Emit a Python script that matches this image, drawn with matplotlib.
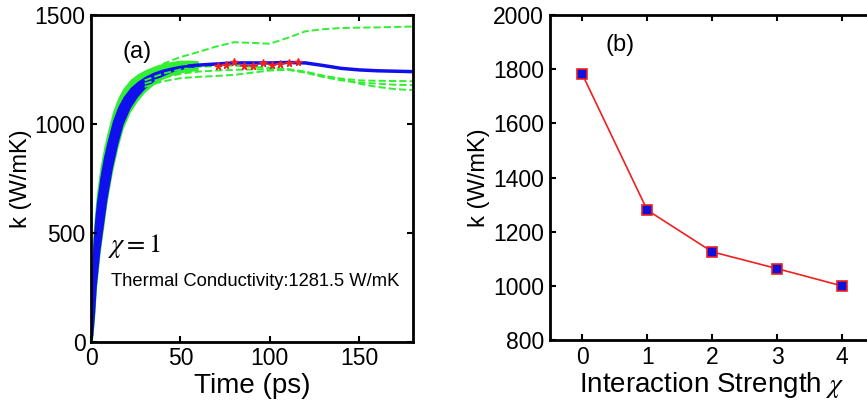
import numpy as np
import matplotlib.pyplot as plt

plt.rcParams['font.family'] = ['Liberation Sans', 'DejaVu Sans']
plt.rcParams['mathtext.fontset'] = 'stix'

# panel (a): early noisy band (time in ps, k in W/mK)
t_band = [0, 1, 2, 3, 5, 7, 9, 12, 15, 18, 22, 26, 30, 35, 40, 45, 50, 55, 60]
blue_lo = [0, 30, 130, 260, 420, 540, 660, 800, 910, 1000, 1075, 1125, 1162, 1196, 1220, 1238, 1250, 1258, 1264]
blue_hi = [230, 450, 560, 640, 760, 850, 920, 1015, 1080, 1125, 1168, 1196, 1218, 1238, 1252, 1262, 1270, 1274, 1276]
green_lo = [0, 20, 110, 240, 400, 520, 640, 780, 890, 980, 1055, 1105, 1145, 1180, 1205, 1222, 1234, 1240, 1246]
green_hi = [250, 480, 590, 680, 800, 890, 960, 1055, 1120, 1165, 1205, 1230, 1248, 1265, 1278, 1287, 1293, 1293, 1290]

# panel (a): running average after the noisy part
blue_t = [55, 60, 70, 80, 90, 100, 110, 120, 130, 140, 150, 160, 170, 180]
blue_k = [1266, 1270, 1275, 1280, 1280, 1280, 1282, 1280, 1268, 1255, 1248, 1244, 1242, 1240]

# panel (a): other runs (green dashed)
green_t = [30, 40, 50, 60, 70, 80, 90, 100, 110, 120, 130, 140, 150, 160, 170, 180]
green_1 = [1230, 1275, 1307, 1330, 1355, 1375, 1372, 1368, 1395, 1425, 1435, 1440, 1442, 1443, 1445, 1447]
green_2 = [1200, 1230, 1250, 1262, 1265, 1268, 1262, 1258, 1252, 1240, 1220, 1208, 1200, 1198, 1197, 1196]
green_3 = [1170, 1195, 1210, 1216, 1220, 1225, 1235, 1245, 1248, 1238, 1222, 1205, 1185, 1170, 1160, 1155]
green_4 = [1185, 1210, 1230, 1240, 1245, 1248, 1250, 1252, 1250, 1235, 1215, 1200, 1190, 1185, 1180, 1178]

# panel (a): averaging window points
red_t = [71, 75.5, 80, 85.5, 90.5, 96, 101, 106, 111, 116]
red_k = [1265, 1272, 1284, 1268, 1268, 1280, 1272, 1274, 1280, 1282]

# panel (b)
chi = [0, 1, 2, 3, 4]
k_chi = [1782, 1280, 1126, 1064, 1000]

fig = plt.figure(figsize=(8.67, 4.05), dpi=100)
ax1 = fig.add_axes([0.105, 0.156, 0.371, 0.807])
ax2 = fig.add_axes([0.634, 0.160, 0.375, 0.803])

green = '#33ee33'
blue = '#1010ee'
ax1.fill_between(t_band, green_lo, green_hi, color=green, lw=0)
for g in [green_1, green_2, green_3, green_4]:
    ax1.plot(green_t, g, '--', color=green, lw=1.4)
ax1.fill_between(t_band, blue_lo, blue_hi, color=blue, lw=0)
ax1.plot(blue_t, blue_k, color=blue, lw=2.5)
ax1.plot(red_t, red_k, ':', color='#ee2020', marker='*', ms=5.5, lw=1)

ax1.set_xlim(0, 180)
ax1.set_ylim(0, 1500)
ax1.set_xticks([0, 50, 100, 150])
ax1.set_yticks([0, 500, 1000, 1500])
ax1.set_xlabel('Time (ps)', fontsize=20, labelpad=2)
ax1.set_ylabel('k (W/mK)', fontsize=17, labelpad=2)
ax1.text(26, 1330, '(a)', fontsize=17, ha='center', va='center')
ax1.text(9.5, 440, r'$\chi=1$', fontsize=19, ha='left', va='center')
ax1.text(11, 275, 'Thermal Conductivity:1281.5 W/mK', fontsize=13.2, ha='left', va='center')

ax2.plot(chi, k_chi, '-', color='#ee2020', lw=1.2, marker='s', ms=7,
         mfc='#1010dd', mec='#ee2020', mew=1.2)
ax2.set_xlim(-0.5, 4.5)
ax2.set_ylim(800, 2000)
ax2.set_xticks(chi)
ax2.set_yticks(np.arange(800, 2001, 200))
ax2.set_xlabel(r'Interaction Strength $\chi$', fontsize=20, labelpad=1)
ax2.set_ylabel('k (W/mK)', fontsize=17, labelpad=2)
ax2.text(0.58, 1890, '(b)', fontsize=17, ha='center', va='center')

for ax in [ax1, ax2]:
    for s in ax.spines.values():
        s.set_linewidth(2)
    ax.tick_params(direction='in', top=True, right=True, labelsize=16.5, width=1.5, length=4, pad=4)

fig.savefig('out.png', dpi=100)
